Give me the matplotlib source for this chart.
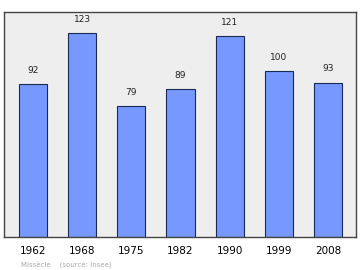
import matplotlib
matplotlib.use('Agg')
import matplotlib.pyplot as plt

# population by census year
years = ['1962', '1968', '1975', '1982', '1990', '1999', '2008']
population = [92, 123, 79, 89, 121, 100, 93]

fig = plt.figure(figsize=(3.6, 2.7), dpi=100)
ax = fig.add_axes([4/360, 1 - 237/270, 352/360, 225/270])
ax.set_facecolor('#eeeeee')

x = list(range(len(years)))
ax.bar(x, population, width=0.57, color='#7799ff', edgecolor='#1a2a55', linewidth=0.8)
for xi, v in zip(x, population):
    ax.text(xi, v + 5.5, str(v), ha='center', va='bottom', fontsize=6.5, color='#222222')

ax.set_xlim(-0.59, 6.57)
ax.set_ylim(0, 135.5)
ax.set_yticks([])
ax.set_xticks(x)
ax.set_xticklabels(years, fontsize=7.5)
ax.tick_params(axis='x', length=0, pad=6.5)
for s in ax.spines.values():
    s.set_color('#444444')
    s.set_linewidth(1.0)

fig.text(21/360, 1 - 264/270, 'Missècle    (source: Insee)', fontsize=5, color='#aaaaaa', va='center')

fig.savefig('out.png', dpi=100)
